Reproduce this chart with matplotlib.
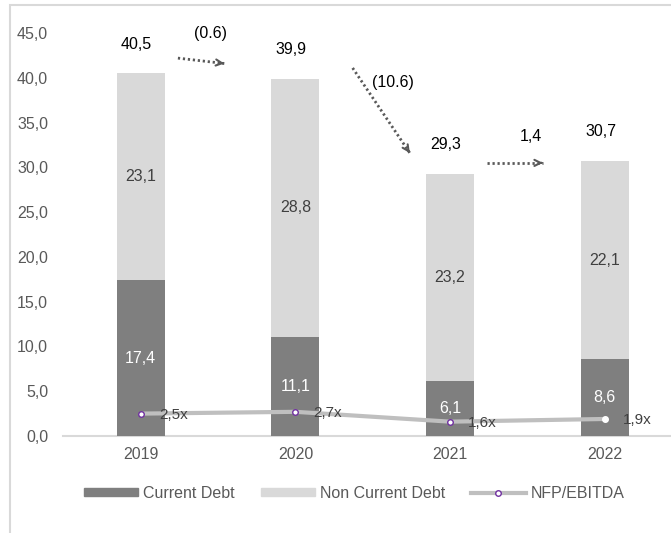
import numpy as np
import matplotlib.pyplot as plt
from matplotlib.patches import Patch, Rectangle
from matplotlib.lines import Line2D

plt.rcParams['font.family'] = ['Liberation Sans', 'DejaVu Sans']

years = ['2019', '2020', '2021', '2022']
current_debt = [17.4, 11.1, 6.1, 8.6]
non_current_debt = [23.1, 28.8, 23.2, 22.1]
nfp_ebitda = [2.5, 2.7, 1.6, 1.9]

dark = '#7f7f7f'
light = '#d9d9d9'
txt = '#595959'
fs = 11.5

fig = plt.figure(figsize=(6.71, 5.33), dpi=100)
ax = fig.add_axes([0.0946, 0.182, 0.9218, 0.756])

x = np.arange(len(years))
cur = np.array(current_debt)
ncur = np.array(non_current_debt)
total = cur + ncur

ax.bar(x, cur, width=0.31, color=dark, zorder=2)
ax.bar(x, ncur, width=0.31, bottom=cur, color=light, zorder=2)

def fmt(v):
    return f'{v:.1f}'.replace('.', ',')

for i in range(len(years)):
    ax.text(x[i], cur[i] / 2, fmt(cur[i]), ha='center', va='center',
            color='white', fontsize=fs, zorder=4)
    ax.text(x[i], cur[i] + ncur[i] / 2, fmt(ncur[i]), ha='center', va='center',
            color='#404040', fontsize=fs, zorder=4)
    ax.annotate(fmt(total[i]), (x[i], total[i]), xytext=(-3, 21),
                textcoords='offset points', ha='center', va='center',
                color='black', fontsize=fs)

# leverage line
ax.plot(x, nfp_ebitda, color='#bfbfbf', lw=3, zorder=3, solid_capstyle='butt')
ax.plot(x[:-1], nfp_ebitda[:-1], 'o', ms=4, mfc='white', mec='#7030a0', mew=1, zorder=4)
ax.plot(x[-1:], nfp_ebitda[-1:], 'o', ms=4, mfc='white', mec='white', zorder=4)
for i, v in enumerate(nfp_ebitda):
    ax.annotate(fmt(v) + 'x', (x[i], v), xytext=(13, -1), textcoords='offset points',
                ha='left', va='center', color='#404040', fontsize=fs - 0.5,
                family=['Liberation Sans Narrow', 'Liberation Sans'], zorder=5)

# year-on-year change arrows
arrow_from = [(0.24, total[0] + 1.7), (1.37, total[1] + 1.2), (2.24, total[2] + 1.2)]
arrow_to = [(0.54, total[0] + 1.1), (1.74, total[2] + 2.3), (2.60, total[2] + 1.2)]
label_at = [(0.45, 45.0), (1.63, 39.5), (2.52, 33.5)]
for i in range(3):
    d = total[i + 1] - total[i]
    lab = f'({abs(d):.1f})' if d < 0 else fmt(d)
    (x0, y0), (x1, y1) = arrow_from[i], arrow_to[i]
    ax.plot([x0, x1], [y0, y1], color=txt, lw=2, ls=(0, (0.8, 1.0)),
            dash_capstyle='butt')
    # solid head at the end of the dotted shaft
    ax.annotate('', xy=(x1, y1), xytext=(x1 - 0.03 * (x1 - x0), y1 - 0.03 * (y1 - y0)),
                arrowprops=dict(arrowstyle='->', color=txt, lw=1.5,
                                shrinkA=0, shrinkB=0, mutation_scale=11))
    ax.text(*label_at[i], lab, ha='center', va='center', color='black', fontsize=fs)

ax.set_xlim(-0.5, 3.5)
ax.set_ylim(0, 45)
ax.set_yticks(np.arange(0, 46, 5))
ax.set_yticklabels([fmt(v) for v in np.arange(0, 46, 5)])
ax.set_xticks(x)
ax.set_xticklabels(years)
ax.tick_params(length=0, colors=txt, labelsize=fs)
ax.tick_params(axis='x', pad=8)
ax.tick_params(axis='y', pad=11)
for s in ['top', 'right', 'left']:
    ax.spines[s].set_visible(False)
ax.spines['bottom'].set_color(light)
ax.spines['bottom'].set_linewidth(1.5)
ax.spines['bottom'].set_zorder(1)

handles = [Patch(color=dark), Patch(color=light),
           Line2D([], [], color='#bfbfbf', lw=3, marker='o', ms=4,
                  mfc='white', mec='#7030a0')]
fig.legend(handles, ['Current Debt', 'Non Current Debt', 'NFP/EBITDA'],
           loc='center', bbox_to_anchor=(0.528, 0.075), ncol=3, frameon=False,
           fontsize=fs, labelcolor=txt, handlelength=3.4, handleheight=0.42,
           handletextpad=0.35, columnspacing=1.6)

# outer frame
fig.patches.append(Rectangle((10 / 671, -0.1), 1.2, 1 - 5 / 533 + 0.1,
                             transform=fig.transFigure, fill=False,
                             ec=light, lw=1.5))

fig.savefig('out.png', dpi=100)
